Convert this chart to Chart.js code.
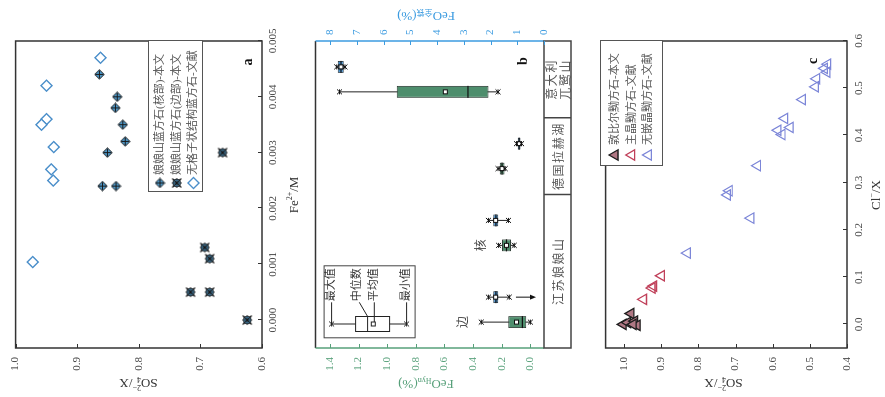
<!DOCTYPE html>
<html>
<head>
<meta charset="utf-8">
<script src="https://cdn.jsdelivr.net/npm/chart.js@4.4.1/dist/chart.umd.min.js"></script>
<style>
  html, body { margin: 0; padding: 0; background: #fff; overflow: hidden; width: 885px; height: 397px; }
  /* the figure is laid out upright (397 x 885) and turned a quarter turn to the left */
  #fig { position: absolute; left: 0; top: 0; width: 397px; height: 885px; background: #fff;
         transform-origin: 0 0; transform: translateY(397px) rotate(-90deg); }
  #fig canvas { position: absolute; left: 0; }
</style>
</head>
<body>
<div id="fig">
  <canvas id="chartA" width="397" height="300" style="top:0px"></canvas>
  <canvas id="chartB" width="397" height="290" style="top:300px"></canvas>
  <canvas id="chartC" width="397" height="295" style="top:590px"></canvas>
</div>
<script>
// ---- panel a: Fe2+/M vs SO4/X ----
const coreFe  = [0.0044, 0.0040, 0.0038, 0.0035, 0.0032, 0.0030, 0.0024, 0.0024];
const coreSO4 = [0.864, 0.835, 0.838, 0.826, 0.822, 0.851, 0.859, 0.837];
const rimFe   = [0.0030, 0.0013, 0.0011, 0.0005, 0.0005, 0.0000];
const rimSO4  = [0.664, 0.693, 0.685, 0.716, 0.685, 0.624];
const litFe   = [0.0047, 0.0042, 0.0036, 0.0035, 0.0031, 0.0027, 0.0025, 0.00104];
const litSO4  = [0.862, 0.950, 0.950, 0.958, 0.938, 0.942, 0.939, 0.972];

// ---- panel b: FeO box plots ----
const groups    = ['边', '核', '德国拉赫湖', '意大利兀鹫山'];
const groupTags = ['边', '核', '', ''];
const regionNames = [['江苏娘娘山'], ['德国拉赫湖'], ['意大利', '兀鹫山']];
const regionSpan  = [2, 1, 1];
// FeO Hyn (%), green axis
const hynMin  = [0.000, 0.113, 0.176, 0.226];
const hynQ1   = [0.029, 0.136, 0.180, 0.293];
const hynMed  = [0.056, 0.167, 0.198, 0.436];
const hynMean = [0.097, 0.167, 0.198, 0.594];
const hynQ3   = [0.154, 0.199, 0.214, 0.933];
const hynMax  = [0.343, 0.222, 0.226, 1.333];
// FeO total (%), blue axis
const totMin  = [1.30, 1.33, 0.84, 7.45];
const totQ1   = [1.71, 1.71, 0.88, 7.50];
const totMed  = [1.80, 1.80, 0.93, 7.60];
const totMean = [1.81, 1.81, 0.93, 7.60];
const totQ3   = [1.90, 1.90, 0.98, 7.72];
const totMax  = [2.08, 2.08, 1.03, 7.76];
const totArrowFrom = [1.05, null, null, null];
const totArrowTo   = [0.30, null, null, null];

// ---- panel c: Cl/X vs SO4/X ----
const dunCl   = [0.023, 0.000, 0.004, 0.007, -0.002, 0.000];
const dunSO4  = [0.982, 1.003, 0.991, 0.972, 0.965, 0.976];
const hostCl  = [0.103, 0.081, 0.077, 0.053];
const hostSO4 = [0.900, 0.921, 0.925, 0.948];
const freeCl  = [0.551, 0.542, 0.534, 0.520, 0.503, 0.476, 0.436, 0.417, 0.411, 0.402, 0.336, 0.283, 0.274, 0.225, 0.151];
const freeSO4 = [0.452, 0.461, 0.454, 0.482, 0.485, 0.520, 0.568, 0.553, 0.586, 0.575, 0.641, 0.717, 0.722, 0.659, 0.830];

const FONT = '"Liberation Serif", "Noto Sans CJK SC", serif';
const GREEN = '#57a07a';
const BLUE = '#3b9be0';
const INK = '#333';

Chart.defaults.font.family = FONT;
Chart.defaults.font.size = 11;
Chart.defaults.color = '#444';

function pairs(xs, ys) {
    return xs.map((x, i) => ({ x: x, y: ys[i] }));
}

// marker: blue diamond with a cross (core)
function makeCoreMarker() {
    const c = document.createElement('canvas');
    c.width = 11; c.height = 11;
    const g = c.getContext('2d');
    g.beginPath();
    g.moveTo(5.5, 0.8); g.lineTo(10.2, 5.5); g.lineTo(5.5, 10.2); g.lineTo(0.8, 5.5); g.closePath();
    g.fillStyle = '#4d98c9'; g.fill();
    g.strokeStyle = '#1a1a1a'; g.lineWidth = 1; g.stroke();
    g.beginPath();
    g.moveTo(5.5, 1.5); g.lineTo(5.5, 9.5); g.moveTo(1.5, 5.5); g.lineTo(9.5, 5.5);
    g.stroke();
    return c;
}

// marker: blue dot with an asterisk (rim)
function makeRimMarker() {
    const c = document.createElement('canvas');
    c.width = 12; c.height = 12;
    const g = c.getContext('2d');
    g.beginPath(); g.arc(6, 6, 4, 0, Math.PI * 2);
    g.fillStyle = '#4d98c9'; g.fill();
    g.strokeStyle = '#1a1a1a'; g.lineWidth = 0.8; g.stroke();
    g.lineWidth = 1.2;
    g.beginPath();
    g.moveTo(1.5, 1.5); g.lineTo(10.5, 10.5); g.moveTo(10.5, 1.5); g.lineTo(1.5, 10.5);
    g.stroke();
    g.lineWidth = 0.8;
    g.beginPath();
    g.moveTo(6, 1); g.lineTo(6, 11); g.moveTo(1, 6); g.lineTo(11, 6);
    g.stroke();
    return c;
}

const coreMarker = makeCoreMarker();
const rimMarker = makeRimMarker();

// text with small sub/superscripts
function drawRich(ctx, parts, x, y, angle, color) {
    ctx.save();
    ctx.translate(x, y);
    ctx.rotate(angle);
    ctx.fillStyle = color;
    ctx.textBaseline = 'middle';
    ctx.textAlign = 'left';
    let total = 0;
    parts.forEach(p => {
        ctx.font = p.size + 'px ' + FONT;
        p.w = ctx.measureText(p.t).width;
        if (!p.keep) total += p.w;
    });
    let cx = -total / 2;
    parts.forEach(p => {
        ctx.font = p.size + 'px ' + FONT;
        ctx.fillText(p.t, cx, p.dy || 0);
        if (!p.keep) cx += p.w;
    });
    ctx.restore();
}

function star(ctx, x, y, r) {
    ctx.beginPath();
    ctx.moveTo(x - r, y - r); ctx.lineTo(x + r, y + r);
    ctx.moveTo(x + r, y - r); ctx.lineTo(x - r, y + r);
    ctx.moveTo(x - r, y); ctx.lineTo(x + r, y);
    ctx.stroke();
}

function drawSymbol(ctx, ds, x, y) {
    const st = ds.pointStyle;
    if (st instanceof HTMLCanvasElement) {
        ctx.drawImage(st, x - st.width / 2, y - st.height / 2);
        return;
    }
    const r = ds.pointRadius;
    ctx.beginPath();
    if (st === 'triangle') {
        for (let k = 0; k < 3; k++) {
            const a = k * 2 * Math.PI / 3;
            const px = x + Math.sin(a) * r, py = y - Math.cos(a) * r;
            if (k === 0) ctx.moveTo(px, py); else ctx.lineTo(px, py);
        }
    } else {
        ctx.moveTo(x, y - r); ctx.lineTo(x + r, y); ctx.lineTo(x, y + r); ctx.lineTo(x - r, y);
    }
    ctx.closePath();
    ctx.fillStyle = ds.backgroundColor;
    ctx.fill();
    ctx.strokeStyle = ds.borderColor;
    ctx.lineWidth = ds.borderWidth;
    ctx.stroke();
}

// plot frame
const frame = {
    id: 'frame',
    afterDraw(chart, args, o) {
        if (!o.on) return;
        const a = chart.chartArea, ctx = chart.ctx;
        ctx.save();
        ctx.strokeStyle = INK; ctx.lineWidth = 1.5;
        ctx.strokeRect(a.left, a.top, a.right - a.left, a.bottom - a.top);
        ctx.restore();
    }
};

// tick marks drawn on the inside of the frame
const inwardTicks = {
    id: 'inwardTicks',
    afterDraw(chart, args, o) {
        const a = chart.chartArea, ctx = chart.ctx;
        (o.axes || []).forEach(ax => {
            const s = chart.scales[ax.id];
            ctx.save();
            ctx.strokeStyle = ax.color; ctx.lineWidth = 1;
            s.ticks.forEach(t => {
                const p = Math.round(s.getPixelForValue(t.value)) + 0.5;
                ctx.beginPath();
                if (ax.side === 'left') { ctx.moveTo(a.left, p); ctx.lineTo(a.left + 4, p); }
                if (ax.side === 'right') { ctx.moveTo(a.right, p); ctx.lineTo(a.right - 4, p); }
                if (ax.side === 'bottom') { ctx.moveTo(p, a.bottom); ctx.lineTo(p, a.bottom - 4); }
                ctx.stroke();
            });
            ctx.restore();
        });
    }
};

// axis titles and panel letters
const titles = {
    id: 'titles',
    afterDraw(chart, args, o) {
        const ctx = chart.ctx;
        (o.items || []).forEach(it => drawRich(ctx, it.parts, it.x, it.y, it.angle || 0, it.color || INK));
        if (o.letter) {
            ctx.save();
            ctx.font = 'bold 14px ' + FONT;
            ctx.fillStyle = '#111';
            ctx.textAlign = 'center'; ctx.textBaseline = 'middle';
            ctx.fillText(o.letter.t, o.letter.x, o.letter.y);
            ctx.restore();
        }
    }
};

// boxed legend inside the plot
const legendBox = {
    id: 'legendBox',
    afterDraw(chart, args, o) {
        if (!o.w) return;
        const ctx = chart.ctx;
        ctx.save();
        ctx.fillStyle = '#fff';
        ctx.fillRect(o.x, o.y, o.w, o.h);
        ctx.strokeStyle = '#555'; ctx.lineWidth = 1;
        ctx.strokeRect(o.x + 0.5, o.y + 0.5, o.w, o.h);
        chart.data.datasets.forEach((ds, i) => {
            const y = o.y + o.first + i * o.gap;
            drawSymbol(ctx, ds, o.x + o.mx, y);
            ctx.fillStyle = '#555';
            ctx.font = '11px ' + FONT;
            ctx.textAlign = 'left'; ctx.textBaseline = 'middle';
            ctx.fillText(ds.label, o.x + o.tx, y);
        });
        ctx.restore();
    }
};

function scatterOptions(xs, ys, extra) {
    return Object.assign({
        animation: false,
        responsive: false,
        devicePixelRatio: 1,
        events: [],
        layout: { padding: { top: 0, right: 41, left: 0, bottom: 0 } },
        scales: {
            x: Object.assign({
                type: 'linear',
                grid: { display: false, drawTicks: false },
                border: { display: false },
                ticks: { padding: 5, includeBounds: false, color: '#444' },
                afterFit: s => { s.height = 38; }
            }, xs),
            y: Object.assign({
                type: 'linear',
                grid: { display: false, drawTicks: false },
                border: { display: false },
                ticks: { stepSize: 0.1, padding: 9, includeBounds: false, color: '#444', callback: v => v.toFixed(1) },
                afterFit: s => { s.width = 49; }
            }, ys)
        }
    }, extra);
}

// ---------- panel a ----------
const optsA = scatterOptions(
    { min: -0.0005, max: 0.005, ticks: { stepSize: 0.001, padding: 5, includeBounds: false, color: '#444', callback: v => Math.abs(v) < 1e-9 ? '0.000' : v.toFixed(3) } },
    { min: 0.6, max: 1.0 },
    {}
);
optsA.layout.padding.top = 15;
optsA.plugins = {
    legend: { display: false },
    tooltip: { enabled: false },
    frame: { on: true },
    inwardTicks: { axes: [{ id: 'x', side: 'bottom', color: INK }, { id: 'y', side: 'left', color: INK }] },
    titles: {
        items: [
            { parts: [{ t: 'SO', size: 13 }, { t: '4', size: 8, dy: 3, keep: true }, { t: '2−', size: 8, dy: -5 }, { t: '/X', size: 13 }], x: 15, y: 138.5, angle: -Math.PI / 2 },
            { parts: [{ t: 'Fe', size: 13 }, { t: '2+', size: 8, dy: -5 }, { t: '/M', size: 13 }], x: 202, y: 295 }
        ],
        letter: { t: 'a', x: 335, y: 248 }
    },
    legendBox: { x: 205, y: 148, w: 151, h: 54, first: 12, gap: 16.7, mx: 9, tx: 17 }
};

new Chart(document.getElementById('chartA'), {
    type: 'scatter',
    data: {
        datasets: [
            { label: '娘娘山蓝方石(核部)-本文', data: pairs(coreFe, coreSO4), pointStyle: coreMarker, pointRadius: 5 },
            { label: '娘娘山蓝方石(边部)-本文', data: pairs(rimFe, rimSO4), pointStyle: rimMarker, pointRadius: 5 },
            { label: '无格子状结构蓝方石-文献', data: pairs(litFe, litSO4), pointStyle: 'rectRot', pointRadius: 5.5,
              borderColor: '#4b8fca', backgroundColor: '#fff', borderWidth: 1.4 }
        ]
    },
    options: optsA,
    plugins: [frame, inwardTicks, titles, legendBox]
});

// ---------- panel b ----------
// whiskers, medians, means and extreme marks of the box plots
const boxParts = {
    id: 'boxParts',
    beforeDatasetsDraw(chart) {
        const ctx = chart.ctx;
        chart.data.datasets.forEach((ds, i) => {
            const ys = chart.scales[ds.yAxisID];
            chart.getDatasetMeta(i).data.forEach((bar, j) => {
                ctx.save();
                ctx.strokeStyle = '#222'; ctx.lineWidth = 1;
                ctx.beginPath();
                ctx.moveTo(bar.x, ys.getPixelForValue(ds.stats.min[j]));
                ctx.lineTo(bar.x, ys.getPixelForValue(ds.stats.max[j]));
                ctx.stroke();
                ctx.restore();
            });
        });
    },
    afterDatasetsDraw(chart) {
        const ctx = chart.ctx;
        chart.data.datasets.forEach((ds, i) => {
            const ys = chart.scales[ds.yAxisID];
            chart.getDatasetMeta(i).data.forEach((bar, j) => {
                const x = bar.x, hw = bar.width / 2;
                ctx.save();
                ctx.strokeStyle = '#111'; ctx.lineWidth = 1.2;
                const m = ys.getPixelForValue(ds.stats.med[j]);
                ctx.beginPath(); ctx.moveTo(x - hw, m); ctx.lineTo(x + hw, m); ctx.stroke();
                const mean = ys.getPixelForValue(ds.stats.mean[j]);
                ctx.fillStyle = '#fff'; ctx.lineWidth = 1;
                ctx.fillRect(x - 2, mean - 2, 4, 4);
                ctx.strokeRect(x - 2, mean - 2, 4, 4);
                ctx.lineWidth = 1;
                star(ctx, x, ys.getPixelForValue(ds.stats.min[j]), 2.5);
                star(ctx, x, ys.getPixelForValue(ds.stats.max[j]), 2.5);
                if (ds.arrowFrom && ds.arrowFrom[j] != null) {
                    const y0 = ys.getPixelForValue(ds.arrowFrom[j]);
                    const y1 = ys.getPixelForValue(ds.arrowTo[j]);
                    ctx.beginPath(); ctx.moveTo(x, y0); ctx.lineTo(x, y1 - 4); ctx.stroke();
                    ctx.beginPath(); ctx.moveTo(x, y1); ctx.lineTo(x - 2.5, y1 - 6); ctx.lineTo(x + 2.5, y1 - 6); ctx.closePath();
                    ctx.fillStyle = '#111'; ctx.fill();
                }
                if (ds.tags && ds.tags[j]) {
                    ctx.font = '12px ' + FONT;
                    ctx.fillStyle = '#444';
                    ctx.textAlign = 'center'; ctx.textBaseline = 'middle';
                    ctx.fillText(ds.tags[j], x, ys.getPixelForValue(ds.stats.max[j]) - 17);
                }
                ctx.restore();
            });
        });
    }
};

// frame, region band under the plot and the box plot key
const panelB = {
    id: 'panelB',
    afterDraw(chart) {
        const a = chart.chartArea, ctx = chart.ctx, xs = chart.scales.x;
        const bandBottom = a.bottom + 27;
        ctx.save();
        ctx.lineWidth = 1.5;
        ctx.strokeStyle = INK;
        ctx.beginPath(); ctx.moveTo(a.left, a.top); ctx.lineTo(a.right, a.top); ctx.stroke();
        ctx.strokeStyle = GREEN;
        ctx.beginPath(); ctx.moveTo(a.left, a.top); ctx.lineTo(a.left, a.bottom); ctx.stroke();
        ctx.strokeStyle = BLUE;
        ctx.beginPath(); ctx.moveTo(a.right, a.top); ctx.lineTo(a.right, a.bottom); ctx.stroke();
        ctx.strokeStyle = '#444';
        ctx.strokeRect(a.left, a.bottom, a.right - a.left, bandBottom - a.bottom);
        // region separators and names
        let idx = 0;
        regionNames.forEach((lines, r) => {
            const first = idx, last = idx + regionSpan[r] - 1;
            const left = first === 0 ? a.left : (xs.getPixelForValue(first - 1) + xs.getPixelForValue(first)) / 2;
            const right = last === groups.length - 1 ? a.right : (xs.getPixelForValue(last) + xs.getPixelForValue(last + 1)) / 2;
            if (r > 0) { ctx.beginPath(); ctx.moveTo(left, a.bottom); ctx.lineTo(left, bandBottom); ctx.stroke(); }
            ctx.fillStyle = '#555';
            ctx.font = '12px ' + FONT;
            ctx.letterSpacing = '1.5px';
            ctx.textAlign = 'center'; ctx.textBaseline = 'middle';
            const mid = (left + right) / 2;
            if (lines.length === 1) {
                ctx.fillText(lines[0], mid, a.bottom + 15.5);
            } else {
                ctx.fillText(lines[0], mid, a.bottom + 9);
                ctx.fillText(lines[1], mid, a.bottom + 22.5);
            }
            idx = last + 1;
        });
        ctx.letterSpacing = '0px';
        // box plot key
        const kx = a.left + 9.7, ky = a.top + 8;
        ctx.lineWidth = 1;
        ctx.strokeStyle = '#444';
        ctx.fillStyle = '#fff';
        ctx.fillRect(kx, ky, 72, 91);
        ctx.strokeRect(kx + 0.5, ky + 0.5, 72, 91);
        const cx = kx + 14.3;
        ctx.strokeStyle = '#222';
        ctx.beginPath(); ctx.moveTo(cx, ky + 8); ctx.lineTo(cx, ky + 83); ctx.stroke();
        ctx.fillStyle = '#fff';
        ctx.fillRect(cx - 7.5, ky + 32, 15, 34);
        ctx.strokeRect(cx - 7.5, ky + 32, 15, 34);
        ctx.beginPath(); ctx.moveTo(cx - 7.5, ky + 44); ctx.lineTo(cx + 7.5, ky + 44); ctx.stroke();
        ctx.strokeRect(cx - 2, ky + 47.7, 4, 4);
        star(ctx, cx, ky + 8, 2.5);
        star(ctx, cx, ky + 83, 2.5);
        const tx = kx + 37;
        ctx.beginPath();
        ctx.moveTo(cx, ky + 8); ctx.lineTo(tx - 1, ky + 8);
        ctx.moveTo(cx, ky + 83); ctx.lineTo(tx - 1, ky + 83);
        ctx.moveTo(cx + 7.5, ky + 44); ctx.lineTo(tx - 1, ky + 35.7);
        ctx.moveTo(cx + 2, ky + 50.7); ctx.lineTo(tx - 1, ky + 50.7);
        ctx.stroke();
        ctx.fillStyle = '#333';
        ctx.font = '11px ' + FONT;
        ctx.textAlign = 'left'; ctx.textBaseline = 'middle';
        ctx.fillText('最大值', tx, ky + 8);
        ctx.fillText('中位数', tx, ky + 34);
        ctx.fillText('平均值', tx, ky + 50.7);
        ctx.fillText('最小值', tx, ky + 83);
        ctx.restore();
    }
};

new Chart(document.getElementById('chartB'), {
    type: 'bar',
    data: {
        labels: groups,
        datasets: [
            {
                label: 'FeO Hyn',
                data: hynQ1.map((q, i) => [q, hynQ3[i]]),
                yAxisID: 'yG',
                backgroundColor: '#4e8e6d',
                borderColor: '#2f3f37',
                borderWidth: 1,
                borderSkipped: false,
                stats: { min: hynMin, med: hynMed, mean: hynMean, max: hynMax },
                tags: groupTags
            },
            {
                label: 'FeO total',
                data: totQ1.map((q, i) => [q, totQ3[i]]),
                yAxisID: 'yB',
                backgroundColor: '#3f8fd2',
                borderColor: '#2f3f4a',
                borderWidth: 1,
                borderSkipped: false,
                stats: { min: totMin, med: totMed, mean: totMean, max: totMax },
                arrowFrom: totArrowFrom,
                arrowTo: totArrowTo
            }
        ]
    },
    options: {
        animation: false,
        responsive: false,
        devicePixelRatio: 1,
        events: [],
        layout: { padding: { top: 8, right: 0, left: 0, bottom: 0 } },
        datasets: { bar: { categoryPercentage: 0.65, barPercentage: 0.48 } },
        scales: {
            x: {
                type: 'category',
                grid: { display: false, drawTicks: false },
                border: { display: false },
                ticks: { display: false },
                afterFit: s => { s.height = 46; }
            },
            yG: {
                type: 'linear', position: 'left', min: -0.095, max: 1.5,
                grid: { display: false, drawTicks: false },
                border: { display: false },
                ticks: { stepSize: 0.2, padding: 9, includeBounds: false, color: GREEN,
                         callback: v => Math.abs(v) < 1e-9 ? '0.0' : v.toFixed(1) },
                afterFit: s => { s.width = 49; }
            },
            yB: {
                type: 'linear', position: 'right', min: 0, max: 8.55,
                grid: { display: false, drawTicks: false },
                border: { display: false },
                ticks: { stepSize: 1, padding: 6, includeBounds: false, color: BLUE },
                afterFit: s => { s.width = 41; }
            }
        },
        plugins: {
            legend: { display: false },
            tooltip: { enabled: false },
            inwardTicks: { axes: [{ id: 'yG', side: 'left', color: GREEN }, { id: 'yB', side: 'right', color: BLUE }] },
            titles: {
                items: [
                    { parts: [{ t: 'FeO', size: 13 }, { t: 'Hyn', size: 8, dy: 3 }, { t: '(%)', size: 13 }], x: 14, y: 126, angle: -Math.PI / 2, color: GREEN },
                    { parts: [{ t: 'FeO', size: 13 }, { t: '全铁', size: 8, dy: 3 }, { t: '(%)', size: 13 }], x: 382, y: 126, angle: -Math.PI / 2, color: BLUE }
                ],
                letter: { t: 'b', x: 336, y: 223 }
            }
        }
    },
    plugins: [boxParts, panelB, inwardTicks, titles]
});

// ---------- panel c ----------
const optsC = scatterOptions(
    { min: -0.05, max: 0.6, ticks: { stepSize: 0.1, padding: 6, includeBounds: false, color: '#444', callback: v => Math.abs(v) < 1e-9 ? '0.0' : v.toFixed(1) } },
    { min: 0.4, max: 1.05 },
    {}
);
optsC.layout.padding.top = 10;
optsC.plugins = {
    legend: { display: false },
    tooltip: { enabled: false },
    frame: { on: true },
    inwardTicks: { axes: [{ id: 'x', side: 'bottom', color: INK }, { id: 'y', side: 'left', color: INK }] },
    titles: {
        items: [
            { parts: [{ t: 'SO', size: 13 }, { t: '4', size: 8, dy: 3, keep: true }, { t: '2−', size: 8, dy: -5 }, { t: '/X', size: 13 }], x: 15, y: 133.5, angle: -Math.PI / 2 },
            { parts: [{ t: 'Cl', size: 13 }, { t: '−', size: 8, dy: -5 }, { t: '/X', size: 13 }], x: 202, y: 287 }
        ],
        letter: { t: 'c', x: 336, y: 223 }
    },
    legendBox: { x: 231, y: 10, w: 125, h: 62, first: 15, gap: 16.7, mx: 11, tx: 21 }
};

new Chart(document.getElementById('chartC'), {
    type: 'scatter',
    data: {
        datasets: [
            { label: '敦比尔黝方石-本文', data: pairs(dunCl, dunSO4), pointStyle: 'triangle', pointRadius: 6,
              backgroundColor: '#b07884', borderColor: '#1e1e1e', borderWidth: 1.3 },
            { label: '主晶黝方石-文献', data: pairs(hostCl, hostSO4), pointStyle: 'triangle', pointRadius: 6,
              backgroundColor: 'rgba(255,255,255,0)', borderColor: '#c0405a', borderWidth: 1.3 },
            { label: '无嵌晶黝方石-文献', data: pairs(freeCl, freeSO4), pointStyle: 'triangle', pointRadius: 6,
              backgroundColor: 'rgba(255,255,255,0)', borderColor: '#7c86d8', borderWidth: 1.2 }
        ]
    },
    options: optsC,
    plugins: [frame, inwardTicks, titles, legendBox]
});
</script>
</body>
</html>
